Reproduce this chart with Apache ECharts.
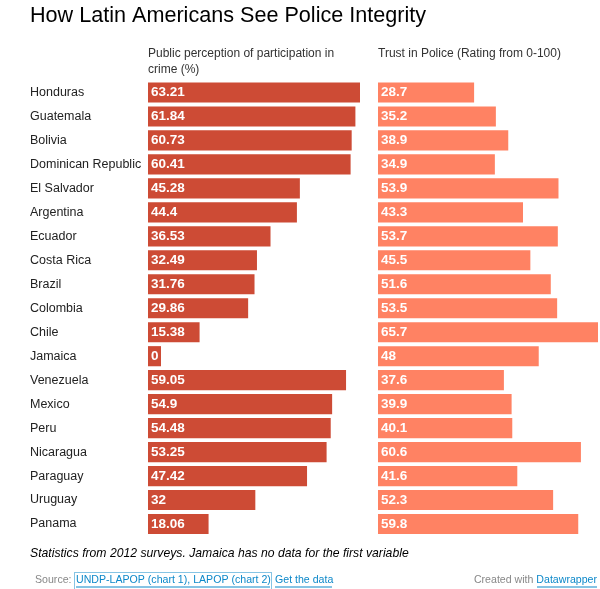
<!DOCTYPE html>
<html>
<head>
<meta charset="utf-8">
<script src="https://cdn.jsdelivr.net/npm/echarts@6/dist/echarts.min.js"></script>
<style>
  html, body { margin: 0; padding: 0; background: #fff; }
  #main { width: 600px; height: 589px; }
</style>
</head>
<body>
<div id="main"></div>
<script>
// 数据
var countries = ['Honduras', 'Guatemala', 'Bolivia', 'Dominican Republic', 'El Salvador', 'Argentina',
  'Ecuador', 'Costa Rica', 'Brazil', 'Colombia', 'Chile', 'Jamaica', 'Venezuela', 'Mexico', 'Peru',
  'Nicaragua', 'Paraguay', 'Uruguay', 'Panama'];
var crime = [63.21, 61.84, 60.73, 60.41, 45.28, 44.4, 36.53, 32.49, 31.76, 29.86, 15.38, 0,
  59.05, 54.9, 54.48, 53.25, 47.42, 32, 18.06];
var trust = [28.7, 35.2, 38.9, 34.9, 53.9, 43.3, 53.7, 45.5, 51.6, 53.5, 65.7, 48,
  37.6, 39.9, 40.1, 60.6, 41.6, 52.3, 59.8];

var font = 'Liberation Sans, Arial, sans-serif';
var blue = '#0d88c9';

var myChart = echarts.init(document.getElementById('main'));

var valueLabel = {
  show: true,
  position: 'insideLeft',
  distance: 3,
  color: '#fff',
  fontWeight: 'bold',
  fontSize: 13.5,
  fontFamily: font
};

myChart.setOption({
  animation: false,
  title: {
    text: 'How Latin Americans See Police Integrity',
    left: 25, top: 0,
    textStyle: { fontSize: 21.6, fontWeight: 'normal', color: '#000', fontFamily: font }
  },
  grid: [
    { left: 148, width: 212, top: 80.5, height: 455.5 },
    { left: 378, width: 220, top: 80.5, height: 455.5 }
  ],
  xAxis: [
    { gridIndex: 0, type: 'value', min: 0, max: 63.21, show: false },
    { gridIndex: 1, type: 'value', min: 0, max: 65.7, show: false }
  ],
  yAxis: [
    {
      gridIndex: 0, type: 'category', data: countries, inverse: true,
      axisLine: { show: false }, axisTick: { show: false },
      axisLabel: { align: 'left', margin: 118, color: '#222', fontSize: 12.5, fontFamily: font }
    },
    {
      gridIndex: 1, type: 'category', data: countries, inverse: true,
      axisLine: { show: false }, axisTick: { show: false }, axisLabel: { show: false }
    }
  ],
  series: [
    {
      type: 'bar', xAxisIndex: 0, yAxisIndex: 0, data: crime,
      barCategoryGap: '16%', barMinHeight: 13,
      itemStyle: { color: '#cd4b35' },
      label: valueLabel
    },
    {
      type: 'bar', xAxisIndex: 1, yAxisIndex: 1, data: trust,
      barCategoryGap: '16%',
      itemStyle: { color: '#ff8263' },
      label: valueLabel
    }
  ],
  graphic: [
    { type: 'text', left: 148, top: 46, style: { text: 'Public perception of participation in\ncrime (%)', fontSize: 12, lineHeight: 16, fill: '#333', fontFamily: font } },
    { type: 'text', left: 378, top: 46, style: { text: 'Trust in Police (Rating from 0-100)', fontSize: 12, lineHeight: 16, fill: '#333', fontFamily: font } },
    { type: 'text', left: 30, top: 548, style: { text: 'Statistics from 2012 surveys. Jamaica has no data for the first variable', fontSize: 12.2, fontStyle: 'italic', fill: '#000', fontFamily: font } },
    { type: 'text', left: 35, top: 575, style: { text: 'Source:', fontSize: 10.6, fill: '#888', fontFamily: font } },
    { type: 'text', left: 76, top: 575, style: { text: 'UNDP-LAPOP (chart 1), LAPOP (chart 2)', fontSize: 10.6, fill: blue, fontFamily: font } },
    { type: 'rect', shape: { x: 74.5, y: 572.5, width: 197, height: 17 }, style: { fill: 'none', stroke: blue, lineWidth: 1, lineDash: [1, 1] } },
    { type: 'line', shape: { x1: 76, y1: 587, x2: 270, y2: 587 }, style: { stroke: blue, lineWidth: 1 } },
    { type: 'text', left: 275, top: 575, style: { text: 'Get the data', fontSize: 10.6, fill: blue, fontFamily: font } },
    { type: 'line', shape: { x1: 275, y1: 587, x2: 332, y2: 587 }, style: { stroke: blue, lineWidth: 1 } },
    { type: 'text', right: 3, top: 575, style: { text: '{g|Created with }{b|Datawrapper}', rich: {
      g: { fontSize: 10.6, fill: '#888', fontFamily: font },
      b: { fontSize: 10.6, fill: blue, fontFamily: font }
    } } },
    { type: 'line', shape: { x1: 537, y1: 587, x2: 597, y2: 587 }, style: { stroke: blue, lineWidth: 1 } }
  ]
});
</script>
</body>
</html>
